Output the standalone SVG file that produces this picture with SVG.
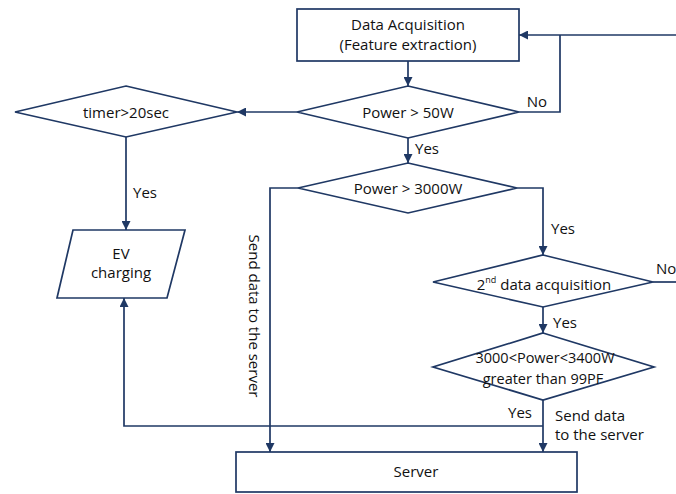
<svg xmlns="http://www.w3.org/2000/svg" width="676" height="494" viewBox="0 0 676 494">
  <style>
    .shape { fill: #ffffff; stroke: #1f3864; stroke-width: 1.7; }
    .line { fill: none; stroke: #1f3864; stroke-width: 1.7; }
    .arrow { marker-end: url(#head); }
    text { font-family: "Open Sans", "Noto Sans", "Liberation Sans", sans-serif; font-size: 15px; fill: #111111; }
    .c { text-anchor: middle; dominant-baseline: central; }
    .tight { font-size: 14.5px; }
  </style>
  <defs>
    <marker id="head" markerUnits="userSpaceOnUse" markerWidth="9" markerHeight="9" refX="9" refY="4.5" orient="auto">
      <path d="M0,0 L9,4.5 L0,9 z" fill="#1f3864"/>
    </marker>
  </defs>

  <rect width="676" height="494" fill="#ffffff"/>

  <!-- connectors -->
  <g id="connectors">
    <path class="line arrow" d="M408,61 L408,86"/>
    <path class="line" d="M519,112 L560,112 L560,35"/>
    <path class="line arrow" d="M676,35 L519,35"/>
    <path class="line arrow" d="M297,112 L237,112"/>
    <path class="line arrow" d="M126,137 L126,230"/>
    <path class="line arrow" d="M408,138 L408,163"/>
    <path class="line arrow" d="M298,188 L270,188 L270,452"/>
    <path class="line arrow" d="M517,188 L543,188 L543,255"/>
    <path class="line" d="M653,282 L676,282"/>
    <path class="line arrow" d="M543,307 L543,333"/>
    <path class="line arrow" d="M543,400 L543,452"/>
    <path class="line arrow" d="M543,426 L124,426 L124,298"/>

    <text x="537" y="101" class="c">No</text>
    <text x="427" y="148" class="c">Yes</text>
    <text x="145" y="192" class="c">Yes</text>
    <text x="563" y="228" class="c">Yes</text>
    <text x="656" y="268" dominant-baseline="central">No</text>
    <text x="565" y="322" class="c">Yes</text>
    <text x="520" y="412" class="c">Yes</text>
    <text x="555" y="415" dominant-baseline="central">Send data</text>
    <text x="555" y="434" dominant-baseline="central">to the server</text>
    <text class="c" transform="translate(255,316) rotate(90)">Send data to the server</text>
  </g>

  <g id="data-acquisition">
    <rect class="shape" x="297" y="9" width="222" height="52"/>
    <text x="408" y="24" class="c">Data Acquisition</text>
    <text x="408" y="44" class="c">(Feature extraction)</text>
  </g>

  <g id="power-50w">
    <path class="shape" d="M408,86 L519,112 L408,138 L297,112 z"/>
    <text x="408" y="112" class="c">Power &gt; 50W</text>
  </g>

  <g id="timer">
    <path class="shape" d="M126,86 L237,112 L126,137 L15,112 z"/>
    <text x="126" y="112" class="c">timer&gt;20sec</text>
  </g>

  <g id="ev-charging">
    <path class="shape" d="M73,230 L185,230 L167,298 L57,298 z"/>
    <text x="121" y="253" class="c">EV</text>
    <text x="121" y="272" class="c">charging</text>
  </g>

  <g id="power-3000w">
    <path class="shape" d="M408,163 L517,188 L408,213 L298,188 z"/>
    <text x="408" y="188" class="c">Power &gt; 3000W</text>
  </g>

  <g id="second-acquisition">
    <path class="shape" d="M543,255 L653,282 L543,307 L433,282 z"/>
    <text x="544" y="284" text-anchor="middle" dominant-baseline="central">2<tspan font-size="9" dy="-5">nd</tspan><tspan dy="5"> data acquisition</tspan></text>
  </g>

  <g id="power-range">
    <path class="shape" d="M543,333 L654,367 L543,400 L433,367 z"/>
    <text x="545" y="357" class="c tight">3000&lt;Power&lt;3400W</text>
    <text x="543" y="378" class="c tight">greater than 99PF</text>
  </g>

  <g id="server">
    <rect class="shape" x="236" y="452" width="341" height="40"/>
    <text x="416" y="471" class="c">Server</text>
  </g>
</svg>
